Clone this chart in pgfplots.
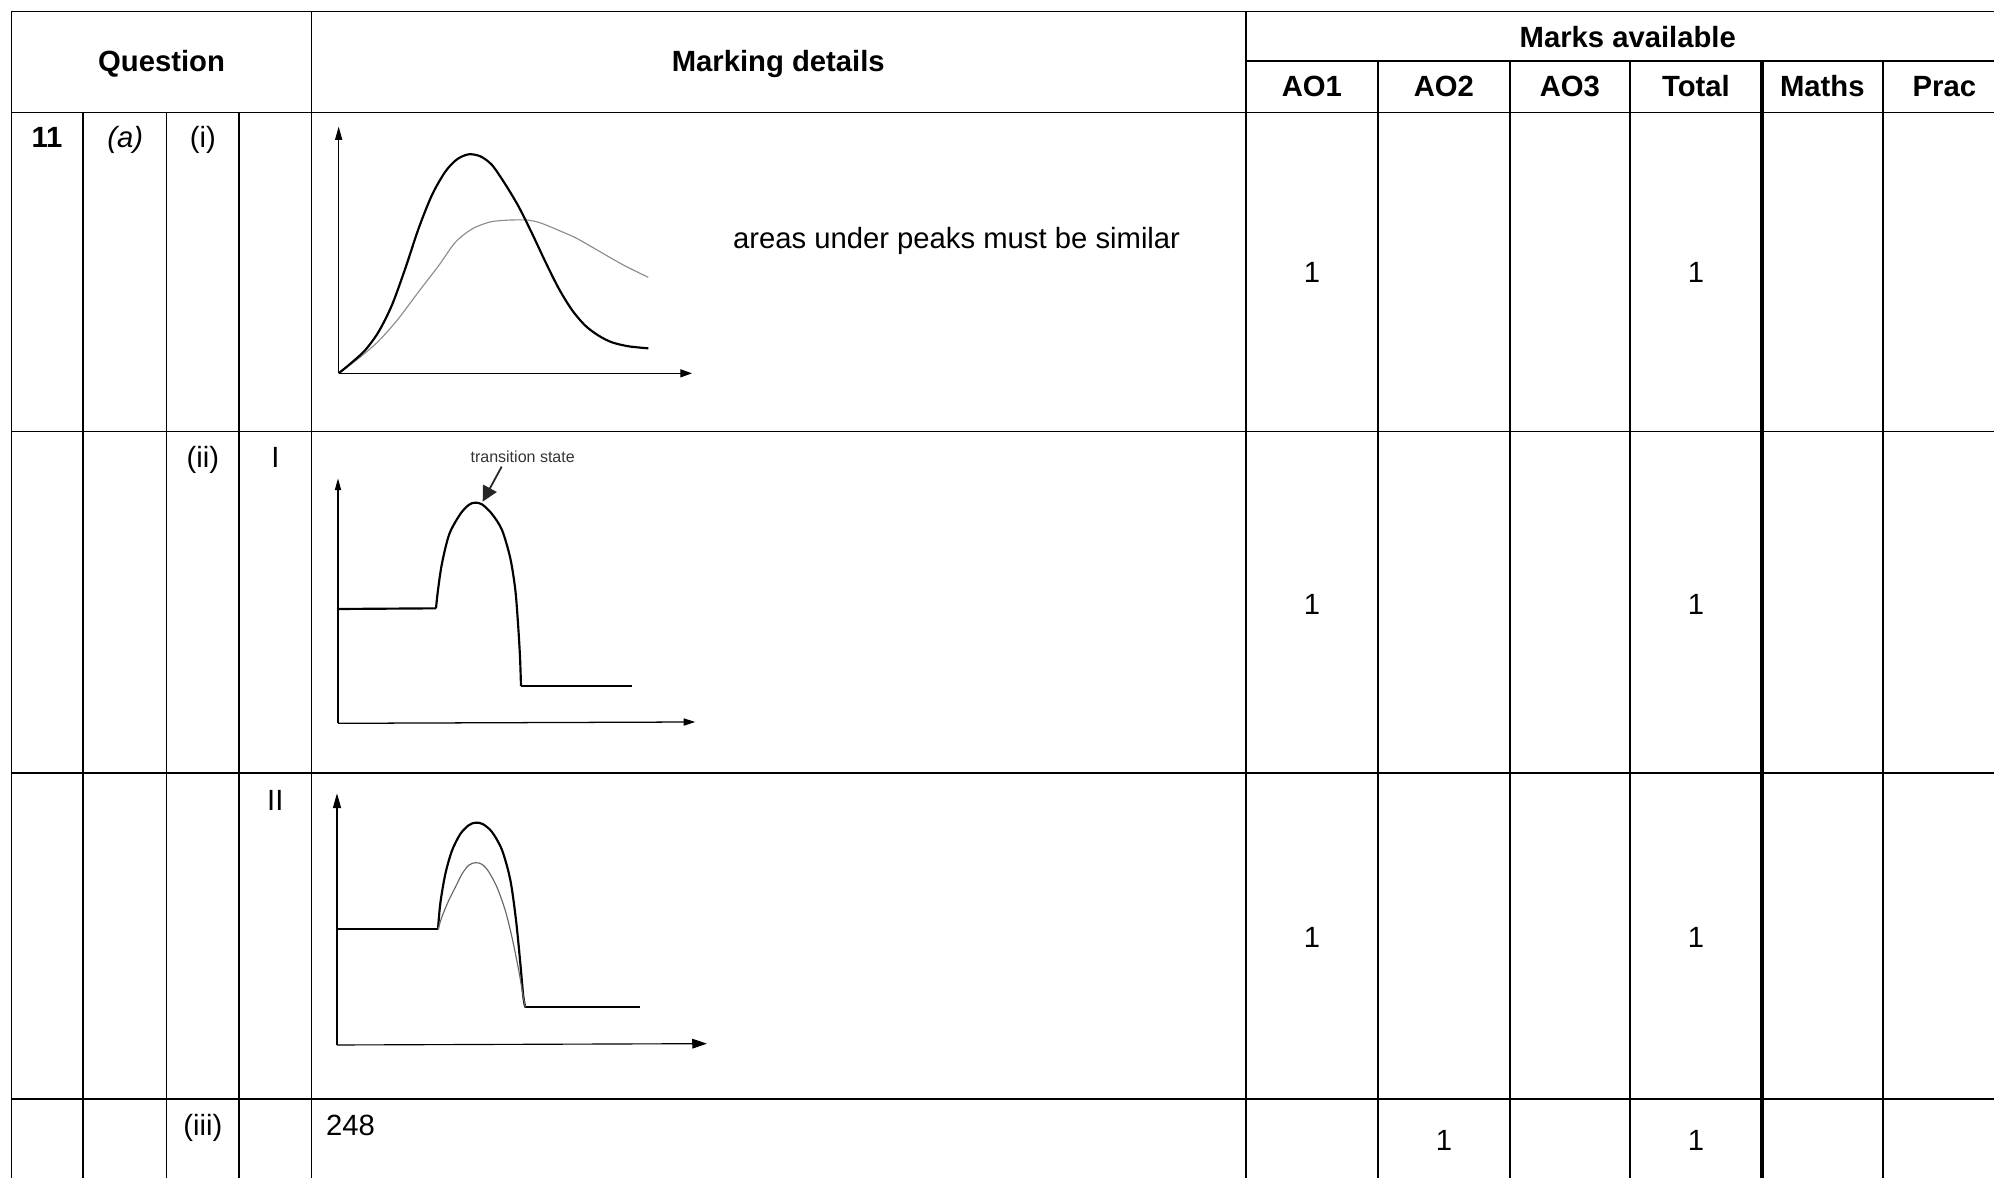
\documentclass[border=0pt]{standalone}
\usepackage{pgfplots}
\pgfplotsset{compat=1.18}
\usetikzlibrary{arrows.meta}
\usepackage{fontspec}
\setmainfont{Liberation Sans}
\tikzset{tbl/.style={font=\fontsize{11.5}{13.8}\selectfont, inner sep=0pt},
         tl/.style={line width=0.7pt, line cap=rect}}
\begin{document}
\begin{tikzpicture}
\begin{axis}[name=main, scale only axis, width=784pt, height=463pt,
  xmin=0, xmax=1568, ymin=0, ymax=926, y dir=reverse, hide axis, clip=false]
% horizontal lines
\draw[tl] (9,9) -- (1568,9);
\draw[tl] (980,48) -- (1568,48);
\draw[tl] (9,88.5) -- (1568,88.5);
\draw[tl] (9,339.3) -- (1568,339.3);
\draw[tl] (9,607.8) -- (1568,607.8);
\draw[tl] (9,864) -- (1568,864);
% vertical lines
\draw[tl] (9,9) -- (9,926);
\draw[tl] (65,88.5) -- (65,926);
\draw[tl] (131,88.5) -- (131,926);
\draw[tl] (188,88.5) -- (188,926);
\draw[tl] (245,9) -- (245,926);
\draw[tl] (979.6,9) -- (979.6,926);
\draw[tl] (1083.6,48) -- (1083.6,926);
\draw[tl] (1187.2,48) -- (1187.2,926);
\draw[tl] (1281.7,48) -- (1281.7,926);
\draw[line width=1.5pt] (1385.6,48) -- (1385.6,926);
\draw[tl] (1480.5,48) -- (1480.5,926);
% header text
\node[tbl, anchor=base] at (127,56) {\bfseries Question};
\node[tbl, anchor=base] at (612,56) {\bfseries Marking details};
\node[tbl, anchor=base] at (1280,37) {\bfseries Marks available};
\node[tbl, anchor=base] at (1031.6,76) {\bfseries AO1};
\node[tbl, anchor=base] at (1135.4,76) {\bfseries AO2};
\node[tbl, anchor=base] at (1234.5,76) {\bfseries AO3};
\node[tbl, anchor=base] at (1333.6,76) {\bfseries Total};
\node[tbl, anchor=base] at (1433,76) {\bfseries Maths};
\node[tbl, anchor=base] at (1529,76) {\bfseries Prac};
% question labels
\node[tbl, anchor=base] at (37,116) {\bfseries 11};
\node[tbl, anchor=base] at (98.5,116) {\itshape (a)};
\node[tbl, anchor=base] at (159.5,116) {(i)};
\node[tbl, anchor=base] at (159.5,368) {(ii)};
\node[tbl, anchor=base] at (216.5,368) {I};
\node[tbl, anchor=base] at (216.5,637) {II};
\node[tbl, anchor=base] at (159.5,893) {(iii)};
\node[tbl, anchor=base west] at (256,893) {248};
\node[tbl, anchor=base west] at (576,195.5) {areas under peaks must be similar};
% marks
\node[tbl, anchor=base] at (1031.6,222.5) {1};
\node[tbl, anchor=base] at (1333.6,222.5) {1};
\node[tbl, anchor=base] at (1031.6,483) {1};
\node[tbl, anchor=base] at (1333.6,483) {1};
\node[tbl, anchor=base] at (1031.6,745) {1};
\node[tbl, anchor=base] at (1333.6,745) {1};
\node[tbl, anchor=base] at (1135.4,905) {1};
\node[tbl, anchor=base] at (1333.6,905) {1};
\coordinate (g1) at (402.61,212.32);
\coordinate (g2) at (402.61,473.78);
\coordinate (g3) at (402.61,735.24);
\end{axis}

% graph 1: Maxwell-Boltzmann distributions
\begin{axis}[at={(g1)}, anchor=center, scale only axis, width=157.27pt, height=129.75pt,
  xmin=0, xmax=1200, ymin=0, ymax=990, y dir=reverse, hide axis, clip=false]
\addplot[line width=0.45pt, -{Triangle[length=5.2pt,width=2.8pt]}] coordinates {(80,805) (80,65)};
\addplot[line width=0.45pt, -{Triangle[length=4.6pt,width=3.2pt]}] coordinates {(80,805) (1140,805)};
\addplot[black!45, line width=0.45pt, smooth] coordinates {
(80,805) (140,760) (200,708) (260,640) (320,560) (380,482) (430,412) (480,372) (530,352)
(564,347) (600,345) (644,345) (680,352) (714,365) (754,382) (794,400) (864,440) (934,480) (1009,517)};
\addplot[black, line width=0.85pt, smooth] coordinates {
(80,805) (120,772) (160,735) (200,680) (240,600) (280,490) (320,370) (360,270) (400,200)
(435,163) (470,148) (505,154) (540,180) (580,238) (620,305) (660,385) (700,470) (740,550)
(780,615) (820,662) (860,692) (900,712) (950,724) (1009,730)};
\end{axis}

% graph 2: enthalpy profile with transition state
\begin{axis}[at={(g2)}, anchor=center, scale only axis, width=157.27pt, height=135.64pt,
  xmin=0, xmax=1200, ymin=0, ymax=1035, y dir=reverse, hide axis, clip=false]
\addplot[line width=0.5pt, -{Triangle[length=4.6pt,width=2.4pt]}] coordinates {(78,880) (78,145)};
\addplot[line width=0.5pt, -{Triangle[length=4.6pt,width=2.8pt]}] coordinates {(78,880) (1150,876)};
\addplot[black, line width=0.85pt] coordinates {(80,537) (372,535)};
\addplot[black, line width=0.85pt, smooth] coordinates {
(372,535) (378,480) (390,400) (412,312) (445,252) (470,225) (488,218) (510,223) (540,252)
(570,300) (595,385) (610,480) (618,580) (624,680) (627,768)};
\addplot[black, line width=0.85pt] coordinates {(627,768) (960,768)};
\addplot[black!85, line width=0.7pt, -{Triangle[length=6pt,width=6pt]}] coordinates {(569,110) (512,215)};
\node[font=\fontsize{6.3}{7.5}\selectfont, text=black!80, inner sep=0pt] at (632,80) {transition state};
\end{axis}

% graph 3: two enthalpy profiles
\begin{axis}[at={(g3)}, anchor=center, scale only axis, width=157.27pt, height=129.75pt,
  xmin=0, xmax=1200, ymin=0, ymax=990, y dir=reverse, hide axis, clip=false]
\addplot[line width=0.45pt, -{Triangle[length=5.8pt,width=3.2pt]}] coordinates {(75,825) (75,70)};
\addplot[line width=0.45pt, -{Triangle[length=5.8pt,width=3.8pt]}] coordinates {(75,825) (1185,821)};
\addplot[black, line width=0.85pt] coordinates {(75,478) (378,478)};
\addplot[black, line width=0.85pt, smooth] coordinates {
(378,478) (385,400) (400,312) (420,242) (445,192) (470,166) (490,158) (512,162) (540,186)
(570,240) (595,330) (612,450) (625,580) (634,680) (640,712)};
\addplot[black, line width=0.85pt] coordinates {(640,712) (985,712)};
\addplot[black!60, line width=0.45pt, smooth] coordinates {
(378,478) (390,440) (410,392) (430,352) (450,312) (470,286) (490,278) (510,283) (530,305)
(555,352) (580,422) (600,502) (620,600) (632,670) (640,712)};
\end{axis}

\pgfresetboundingbox
\path (main.south west) rectangle (main.north east);
\end{tikzpicture}
\end{document}
